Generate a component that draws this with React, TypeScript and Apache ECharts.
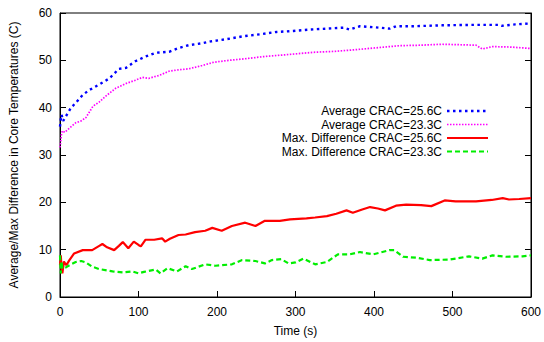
import React, { useEffect, useRef } from "react";
import * as echarts from "echarts";

const avg256T = [0,1,2,4,8,14,20,29,37,50,63,75,84,96,109,122,139,151,164,181,192,213,234,255,276,297,318,340,361,369,382,400,420,428,450,487,530,559,563,580,600];
const avg256V = [36,37.5,38.5,37.2,38.3,40,41,42.7,43.7,44.9,46.2,48.2,48.4,49.8,50.8,51.6,51.8,52.6,53.2,53.6,54.0,54.5,55.1,55.5,56.0,56.2,56.5,56.7,56.9,56.5,57.2,57.0,56.7,57.2,57.2,57.4,57.5,57.5,57.3,57.6,57.8];

const avg233T = [0,1,2,3,6,10,20,27,33,42,50,58,71,84,96,105,113,126,139,151,164,181,196,215,234,260,289,323,350,373,400,433,460,487,530,538,551,575,600];
const avg233V = [31.6,33.0,34.5,35.1,34.8,35.4,36.8,37.2,37.9,40.3,41.2,42.4,44.1,45.1,45.8,46.4,46.2,46.8,47.7,48.0,48.2,48.9,49.6,50.0,50.3,50.8,51.2,51.7,51.9,52.2,52.6,53.1,53.2,53.4,53.2,52.4,52.9,52.8,52.5];

const max256T = [0,1,2,3,5,8,12,18,29,41,50,54,60,69,75,80,87,94,100,103,109,120,130,134,140,151,160,172,185,194,206,219,236,249,261,280,293,314,325,340,352,365,373,385,395,405,414,428,441,460,473,490,504,530,550,564,572,585,600];
const max256V = [6.7,8.8,6.0,5.0,7.5,6.7,7.8,9.2,9.9,9.9,10.8,11.2,10.5,9.9,10.8,11.6,10.3,11.7,11.0,10.7,12.1,12.1,12.4,11.7,12.3,13.1,13.2,13.7,14.0,14.6,14.0,15.0,15.7,15.0,16.1,16.1,16.4,16.6,16.8,17.1,17.6,18.3,17.8,18.5,19.0,18.7,18.3,19.3,19.5,19.4,19.2,20.4,20.2,20.2,20.5,20.9,20.6,20.7,20.9];

const max233T = [0,1,2,3,5,8,12,20,27,33,41,50,60,67,80,92,100,107,113,122,128,137,149,160,168,185,198,219,232,249,261,270,282,291,300,310,325,340,354,369,382,399,420,426,437,454,471,496,521,538,551,568,589,600];
const max233V = [8.8,5.0,7.5,6.0,6.1,6.3,6.7,7.4,7.6,7.3,6.4,5.9,5.6,5.4,5.2,5.4,5.0,5.3,5.5,5.8,5.0,6.1,5.4,6.5,5.9,6.9,6.6,6.9,7.8,7.6,7.1,7.8,8.0,7.1,7.3,8.1,6.9,7.4,9.0,9.0,9.5,9.0,9.9,9.9,8.5,8.3,7.8,7.9,8.6,8.1,8.8,8.5,8.6,8.8];

const seriesNames = [
  "Average CRAC=25.6C",
  "Average CRAC=23.3C",
  "Max. Difference CRAC=25.6C",
  "Max. Difference CRAC=23.3C",
];

const xTitle = "Time (s)";
const yTitle = "Average/Max Difference in Core Temperatures (C)";

const pair = (t: number[], v: number[]) => t.map((x, i) => [x, v[i]]);

const FONT = "'Liberation Sans', Arial, sans-serif";

const styles = [
  { color: "#0000ff", width: 2.4, type: [2.5, 3.5] as any },
  { color: "#ff00ff", width: 1.7, type: [1.5, 1.5] as any },
  { color: "#ff0000", width: 2.2, type: "solid" as any },
  { color: "#00ee00", width: 2.2, type: [5, 3] as any },
];

export default function App() {
  const ref = useRef<HTMLDivElement>(null);
  useEffect(() => {
    if (!ref.current) return;
    const chart = echarts.init(ref.current, undefined, { renderer: "svg" });
    const datasets = [
      pair(avg256T, avg256V),
      pair(avg233T, avg233V),
      pair(max256T, max256V),
      pair(max233T, max233V),
    ];
    const legendY = [111, 124.5, 138, 151.5];
    const graphic: any[] = [];
    seriesNames.forEach((n, i) => {
      graphic.push({
        type: "text",
        x: 442,
        y: legendY[i],
        style: {
          text: n,
          align: "right",
          verticalAlign: "middle",
          font: `12px ${FONT}`,
          fill: "#000",
        },
      });
      graphic.push({
        type: "line",
        shape: { x1: 447, y1: legendY[i], x2: 488, y2: legendY[i] },
        style: {
          stroke: styles[i].color,
          lineWidth: styles[i].width,
          lineDash: Array.isArray(styles[i].type) ? styles[i].type : null,
        },
      });
    });
    chart.setOption({
      animation: false,
      backgroundColor: "#fff",
      textStyle: { fontFamily: FONT },
      grid: {
        left: 59,
        right: 12,
        top: 13,
        bottom: 39.5,
        show: true,
        borderColor: "#000",
        borderWidth: 1,
      },
      xAxis: {
        type: "value",
        min: 0,
        max: 600,
        interval: 100,
        name: xTitle,
        nameLocation: "middle",
        nameGap: 28,
        nameTextStyle: { fontSize: 12, color: "#000", fontFamily: FONT },
        axisLine: { show: true, lineStyle: { color: "#000", width: 1 } },
        axisTick: { show: true, inside: true, length: 6, lineStyle: { color: "#000" } },
        axisLabel: { fontSize: 12, color: "#000", margin: 9, fontFamily: FONT },
        splitLine: { show: false },
      },
      yAxis: [
        {
          type: "value",
          min: 0,
          max: 60,
          interval: 10,
          name: yTitle,
          nameLocation: "middle",
          nameGap: 40,
          nameTextStyle: { fontSize: 12, color: "#000", fontFamily: FONT },
          axisLine: { show: true, lineStyle: { color: "#000", width: 1 } },
          axisTick: { show: true, inside: true, length: 6, lineStyle: { color: "#000" } },
          axisLabel: { fontSize: 12, color: "#000", margin: 8, fontFamily: FONT },
          splitLine: { show: false },
        },
        {
          type: "value",
          position: "right",
          min: 0,
          max: 60,
          interval: 10,
          axisLine: { show: true, lineStyle: { color: "#000", width: 1 } },
          axisTick: { show: true, inside: true, length: 6, lineStyle: { color: "#000" } },
          axisLabel: { show: false },
          splitLine: { show: false },
        },
      ],
      series: datasets.map((d, i) => ({
        name: seriesNames[i],
        type: "line",
        yAxisIndex: 0,
        data: d,
        showSymbol: false,
        symbol: "none",
        lineStyle: { color: styles[i].color, width: styles[i].width, type: styles[i].type },
        itemStyle: { color: styles[i].color },
        z: 2 + i,
      })),
      graphic,
    });
    return () => chart.dispose();
  }, []);
  return (
    <div
      ref={ref}
      style={{ position: "absolute", left: 0, top: 0, width: 544, height: 342 }}
    />
  );
}
